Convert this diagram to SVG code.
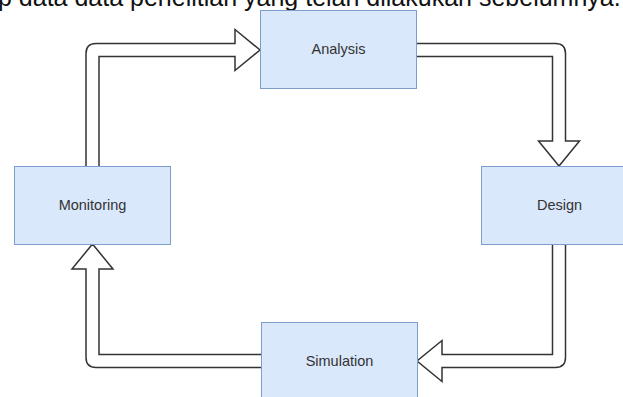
<svg xmlns="http://www.w3.org/2000/svg" width="623" height="397" viewBox="0 0 623 397">
<style>
.box{fill:#dae8fc;stroke:#7d9dcc;stroke-width:1}
.lbl{font-family:"Liberation Sans",Arial,sans-serif;font-size:14.5px;fill:#333;text-anchor:middle}
.arr{fill:#fff;stroke:#333;stroke-width:1.5;stroke-linejoin:miter}
.top{font-family:"Liberation Sans",Arial,sans-serif;font-size:25px;fill:#111}
</style>
<rect width="623" height="397" fill="#fff"/>
<text class="top" x="-2" y="6">p data data penelitian yang telah dilakukan sebelumnya.</text>
<g id="connectors">
<path class="arr" d="M86 166 L86 53.5 Q86 43.5 96 43.5 L235 43.5 L235 29.5 L260 50 L235 70.5 L235 56.5 L99 56.5 L99 166"/>
<path class="arr" d="M417 43.5 L555.5 43.5 Q565.5 43.5 565.5 53.5 L565.5 141 L579.5 141 L559 166 L538.5 141 L552.5 141 L552.5 56.5 L417 56.5"/>
<path class="arr" d="M565.5 244 L565.5 357.5 Q565.5 367.5 555.5 367.5 L442 367.5 L442 381.5 L417 361 L442 340.5 L442 354.5 L552.5 354.5 L552.5 244"/>
<path class="arr" d="M261 367.5 L96 367.5 Q86 367.5 86 357.5 L86 269 L72 269 L92.5 244 L113 269 L99 269 L99 354.5 L261 354.5"/>
</g>
<g id="analysis"><rect class="box" x="260.5" y="10.5" width="156" height="78"/><text class="lbl" x="338.5" y="54">Analysis</text></g>
<g id="design"><rect class="box" x="481.5" y="166.5" width="156" height="78"/><text class="lbl" x="559.5" y="210">Design</text></g>
<g id="simulation"><rect class="box" x="261.5" y="322.5" width="156" height="78"/><text class="lbl" x="339.5" y="366">Simulation</text></g>
<g id="monitoring"><rect class="box" x="14.5" y="166.5" width="156" height="78"/><text class="lbl" x="92.5" y="210">Monitoring</text></g>
</svg>
